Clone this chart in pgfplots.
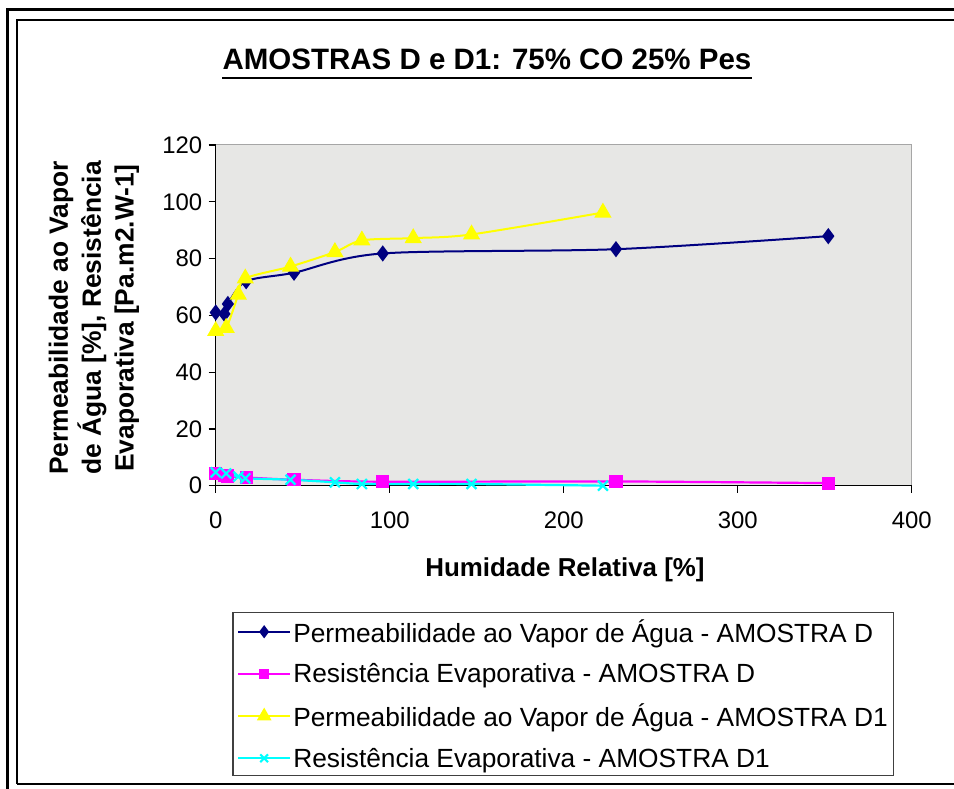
\documentclass[border=0pt]{standalone}
\usepackage{fontspec}
\setmainfont{Liberation Sans}
\usepackage{pgfplots}
\pgfplotsset{compat=1.18}

\definecolor{serD}{RGB}{0,0,128}
\definecolor{serDres}{RGB}{255,0,255}
\definecolor{serDone}{RGB}{255,255,0}
\definecolor{serDoneres}{RGB}{0,255,255}
\definecolor{plotbg}{RGB}{231,231,229}

\begin{document}
\begin{tikzpicture}[x=1bp,y=1bp]
% page area
\path[use as bounding box] (0,0) rectangle (954,789);

% chart frames
\draw[line width=3bp] (7,0) -- (7,779) -- (954,779);
\draw[line width=2.6bp] (17,5) -- (17,769) -- (954,769);
\draw[line width=2.6bp] (17,5) -- (954,5);

% title
\node[anchor=base, inner sep=0pt, font=\fontsize{29.6}{34}\selectfont\bfseries] (title) at (487,719)
  {AMOSTRAS D e D1: 75\% CO 25\% Pes};
\draw[line width=2.7bp] ([yshift=-8bp]title.base west) -- ([yshift=-8bp]title.base east);

\begin{axis}[
  at={(215.7bp,303.3bp)}, anchor=south west,
  scale only axis, width=696.1bp, height=340.7bp,
  xmin=0, xmax=400, ymin=0, ymax=120,
  xtick={0,100,...,400}, ytick={0,20,...,120},
  axis x line*=bottom, axis y line*=left,
  axis line style={black, line width=1.3bp, -},
  every outer x axis line/.append style={-},
  every outer y axis line/.append style={-},
  axis background/.style={fill=plotbg, draw=gray!70, line width=1bp},
  tick align=outside, major tick length=7bp,
  tick style={black, line width=1.2bp},
  /pgf/number format/assume math mode=true,
  ticklabel style={font=\fontsize{24}{28}\selectfont},
  xticklabel style={yshift=-16bp},
  yticklabel style={xshift=-3bp},
  clip=false,
  legend style={at={(axis description cs:0.0241,-0.3707)}, anchor=north west,
    draw=black!75, line width=1.2bp, fill=white,
    font=\fontsize{26.4}{31}\selectfont,
    inner xsep=4bp, inner ysep=5bp, row sep=15.7bp,
    nodes={inner sep=2bp}},
  legend cell align=left,
  legend image code/.code={
    \draw[mark repeat=2,mark phase=2] plot coordinates {(0bp,0bp) (26bp,0bp) (52bp,0bp)};
  },
]

% Permeabilidade - amostra D
\addplot[serD, line width=2bp, smooth, mark=diamond*, mark size=6.5bp,
  mark options={fill=serD, draw=serD}, legend image post style={mark size=5bp}]
  coordinates {(0,61.0) (5,60.5) (7,64.0) (17.5,72.0) (45,75.0) (96,81.8) (230,83.3) (352,87.9)};
\addlegendentry{Permeabilidade ao Vapor de Água - AMOSTRA D}

% Resistencia evaporativa - amostra D
\addplot[serDres, line width=2.2bp, smooth, mark=square*, mark size=5.5bp,
  mark options={fill=serDres, draw=serDres}, legend image post style={mark size=4.2bp}]
  coordinates {(0,4.3) (5,3.7) (7,3.4) (17.5,2.9) (45,2.1) (96,1.4) (230,1.5) (352,0.9)};
\addlegendentry{Resistência Evaporativa - AMOSTRA D}

% Permeabilidade - amostra D1
\addplot[serDone, line width=2bp, smooth, mark=triangle*, mark size=8bp,
  mark options={fill=serDone, draw=serDone}, legend image post style={mark size=6.5bp}]
  coordinates {(0,54.5) (6,55.6) (13,67.3) (17,73.0) (43,77.2) (68.5,82.3) (84,86.4) (113.5,87.2) (147,88.5) (222.5,96.2)};
\addlegendentry{Permeabilidade ao Vapor de Água - AMOSTRA D1}

% Resistencia evaporativa - amostra D1
\addplot[serDoneres, line width=2.2bp, smooth, mark=x, mark size=7bp,
  mark options={draw=serDoneres, line width=2.2bp}, legend image post style={mark size=5.5bp}]
  coordinates {(0,4.7) (6,4.3) (13,3.2) (17,2.6) (43,2.1) (68.5,1.2) (84,0.6) (113.5,0.6) (147,0.6) (222.5,0.0)};
\addlegendentry{Resistência Evaporativa - AMOSTRA D1}

\end{axis}

% axis titles
\node[anchor=base, inner sep=0pt, font=\fontsize{26}{30}\selectfont\bfseries] at (565,212.3)
  {Humidade Relativa [\%]};
\node[rotate=90, align=center, inner sep=0pt, font=\fontsize{26.5}{33}\selectfont\bfseries] at (94,471)
  {Permeabilidade ao Vapor\\de Água [\%], Resistência\\Evaporativa [Pa.m2.W-1]};
\end{tikzpicture}
\end{document}
